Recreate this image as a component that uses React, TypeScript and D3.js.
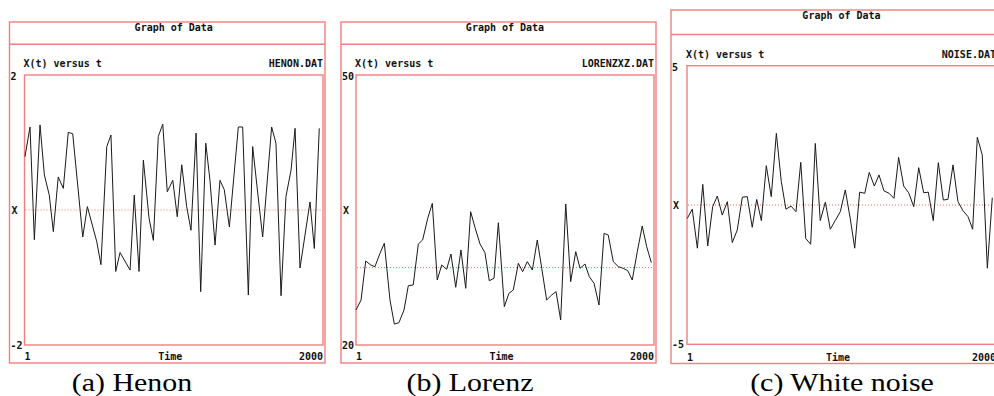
import { useRef, useEffect } from "react";
import * as d3 from "d3";

// Henon series (time index, x value)
const henonT = [4, 38, 67, 105, 134, 167, 194, 227, 261, 294, 324, 391, 422, 485, 513, 552, 580, 612, 641, 708, 736, 768, 797, 835, 864, 897, 927, 957, 994, 1024, 1054, 1087, 1116, 1150, 1181, 1215, 1243, 1277, 1310, 1339, 1373, 1433, 1462, 1500, 1529, 1563, 1596, 1656, 1685, 1719, 1752, 1786, 1813, 1846, 1913, 1942, 1975];
const henonX = [0.79, 1.23, -0.44, 1.26, 0.52, 0.22, -0.32, 0.49, 0.32, 1.15, 1.13, -0.4, 0.05, -0.47, -0.81, 0.94, 1.11, -0.91, -0.63, -0.89, 0.22, -0.91, 0.74, -0.12, -0.45, 1.09, 1.27, 0.27, 0.44, -0.1, 0.67, 0.05, -0.3, 1.14, -1.21, 0.99, 0.44, -0.52, 0.44, 0.3, -0.25, 1.23, 1.23, -1.26, 0.94, 0.25, -0.4, 1.23, 0.99, -1.27, 0.2, 0.59, 1.21, -0.86, 0.12, -0.57, 1.21];

// Lorenz series
const lorenzT = [1, 35, 66, 100, 128, 162, 191, 229, 258, 289, 323, 352, 385, 419, 448, 482, 513, 546, 576, 609, 638, 670, 705, 737, 770, 799, 833, 866, 895, 927, 956, 996, 1027, 1056, 1090, 1119, 1150, 1184, 1217, 1247, 1280, 1314, 1343, 1374, 1408, 1441, 1475, 1504, 1537, 1566, 1598, 1631, 1665, 1693, 1727, 1761, 1794, 1824, 1854, 1888, 1921, 1951, 1982];
const lorenzX = [23.89, 25.0, 29.33, 28.89, 28.7, 30.19, 31.3, 25.0, 22.33, 22.48, 23.89, 26.59, 26.67, 31.22, 31.67, 34.07, 35.74, 27.22, 28.89, 28.41, 30.11, 26.41, 30.56, 26.3, 34.81, 33.07, 31.22, 30.26, 27.14, 27.41, 33.59, 24.26, 25.74, 26.11, 29.07, 28.15, 29.26, 28.33, 31.67, 28.52, 25.0, 25.56, 25.93, 22.78, 35.67, 27.04, 30.37, 28.52, 29.0, 27.59, 26.85, 24.44, 32.41, 32.22, 29.26, 28.7, 28.52, 28.26, 27.22, 30.37, 33.22, 30.93, 29.15];

// White noise series
const noiseT = [3, 35, 68, 103, 135, 167, 197, 229, 262, 294, 326, 359, 391, 423, 452, 482, 514, 546, 579, 611, 641, 674, 706, 737, 769, 801, 831, 863, 896, 928, 960, 993, 1025, 1057, 1086, 1118, 1151, 1180, 1213, 1243, 1275, 1308, 1340, 1370, 1403, 1435, 1468, 1500, 1532, 1562, 1594, 1627, 1659, 1689, 1722, 1754, 1786, 1819, 1849, 1879, 1911, 1944, 1976];
const noiseX = [-0.48, -0.15, -1.55, 0.74, -1.47, -0.06, 0.32, -0.36, 0.12, -1.35, -0.9, 0.28, 0.3, -0.8, 0.2, -0.56, 1.41, 0.3, 2.57, 0.84, -0.15, -0.04, -0.24, 1.53, -1.2, -1.41, 2.21, -0.56, 0.1, -0.87, -0.56, -0.24, 0.54, -0.48, -1.55, 0.46, 0.42, 1.17, 0.68, 1.08, 0.51, 0.42, 0.24, 1.71, 0.68, 0.44, -0.06, 1.34, 0.44, 0.46, -0.56, 1.52, 0.18, 0.2, 1.44, 0.12, -0.2, -0.42, -0.87, 2.43, 1.8, -2.27, 0.26];

const fileNames = ["HENON.DAT", "LORENZXZ.DAT", "NOISE.DAT"];
const yDomains: [number, number][] = [[-2, 2], [20, 50], [-5, 5]];
const yTickLabels = [["-2", "2"], ["20", "50"], ["-5", "5"]];
const refLines = [0, 28.6, 0];
const captions = ["(a) Henon", "(b) Lorenz", "(c) White noise"];
const timeDomain: [number, number] = [1, 2000];

// panel geometry
const layouts = [
  { x0: 9.5, y0: 22, x1: 325, y1: 363, band: 44.3, px0: 24.5, py0: 75, px1: 323, py1: 345, capX: 132 },
  { x0: 341, y0: 22, x1: 656, y1: 363, band: 44.3, px0: 356, py0: 75, px1: 654, py1: 345, capX: 470 },
  { x0: 671, y0: 10, x1: 1002, y1: 363.5, band: 34.5, px0: 687, py0: 65.7, px1: 996, py1: 344.3, capX: 842 },
];

const FRAME = "#f27f7f";
const MONO = "'DejaVu Sans Mono', 'Liberation Mono', monospace";

export default function App() {
  const svgRef = useRef<SVGSVGElement>(null);

  useEffect(() => {
    if (!svgRef.current) return;
    const svg = d3.select(svgRef.current);
    svg.selectAll("*").remove();

    const series = [
      d3.zip(henonT, henonX),
      d3.zip(lorenzT, lorenzX),
      d3.zip(noiseT, noiseX),
    ];

    layouts.forEach((L, i) => {
      const g = svg.append("g");
      const x = d3.scaleLinear().domain(timeDomain).range([L.px0, L.px1]);
      const y = d3.scaleLinear().domain(yDomains[i]).range([L.py1, L.py0]);

      // outer frame + title band
      g.append("rect")
        .attr("x", L.x0).attr("y", L.y0)
        .attr("width", L.x1 - L.x0).attr("height", L.y1 - L.y0)
        .attr("fill", "none").attr("stroke", FRAME).attr("stroke-width", 1.4);
      g.append("line")
        .attr("x1", L.x0).attr("x2", L.x1).attr("y1", L.band).attr("y2", L.band)
        .attr("stroke", FRAME).attr("stroke-width", 1.4);
      // plot box
      g.append("rect")
        .attr("x", L.px0).attr("y", L.py0)
        .attr("width", L.px1 - L.px0).attr("height", L.py1 - L.py0)
        .attr("fill", "none").attr("stroke", FRAME).attr("stroke-width", 1.4);

      // dotted reference line
      g.append("line")
        .attr("x1", L.px0 + 1).attr("x2", L.px1 - 1)
        .attr("y1", y(refLines[i])).attr("y2", y(refLines[i]))
        .attr("stroke", "#f07070").attr("stroke-width", 1)
        .attr("stroke-dasharray", "1,2");

      // data line
      const line = d3.line<[number, number]>().x((d) => x(d[0])).y((d) => y(d[1]));
      g.append("path")
        .datum(series[i] as [number, number][])
        .attr("d", line)
        .attr("fill", "none")
        .attr("stroke", "#1a1a1a")
        .attr("stroke-width", 1);

      const txt = (tx: number, ty: number, s: string, anchor = "start") =>
        g.append("text")
          .attr("x", tx).attr("y", ty)
          .attr("dominant-baseline", "central")
          .attr("text-anchor", anchor)
          .style("font-family", MONO)
          .style("font-weight", "bold")
          .style("font-size", "10px")
          .style("fill", "#111")
          .text(s);

      const cx = (L.px0 + L.px1) / 2;
      txt(cx, L.y0 + 5.5, "Graph of Data", "middle");
      txt(L.px0 - 1, L.py0 - 11.5, "X(t) versus t");
      txt(L.px1, L.py0 - 11.5, fileNames[i], "end");
      txt(L.x0 + 1, L.py0 + 1.5, yTickLabels[i][1]);
      txt(L.x0 + 1, L.py1, yTickLabels[i][0]);
      txt(L.x0 + 2, (L.py0 + L.py1) / 2, "X");
      txt(x(timeDomain[0]), L.y1 - 6.5, String(timeDomain[0]));
      txt(cx - 3.5, L.y1 - 6.5, "Time", "middle");
      txt(L.px1, L.y1 - 6.5, String(timeDomain[1]), "end");

      // caption
      g.append("text")
        .attr("transform", `translate(${L.capX},391) scale(1.15,1)`)
        .attr("text-anchor", "middle")
        .style("font-family", "'Liberation Serif', 'Times New Roman', serif")
        .style("font-size", "26px")
        .style("fill", "#000")
        .text(captions[i]);
    });
  }, []);

  return (
    <svg
      ref={svgRef}
      width={994}
      height={396}
      style={{ position: "absolute", left: 0, top: 0, background: "#fff" }}
    />
  );
}
